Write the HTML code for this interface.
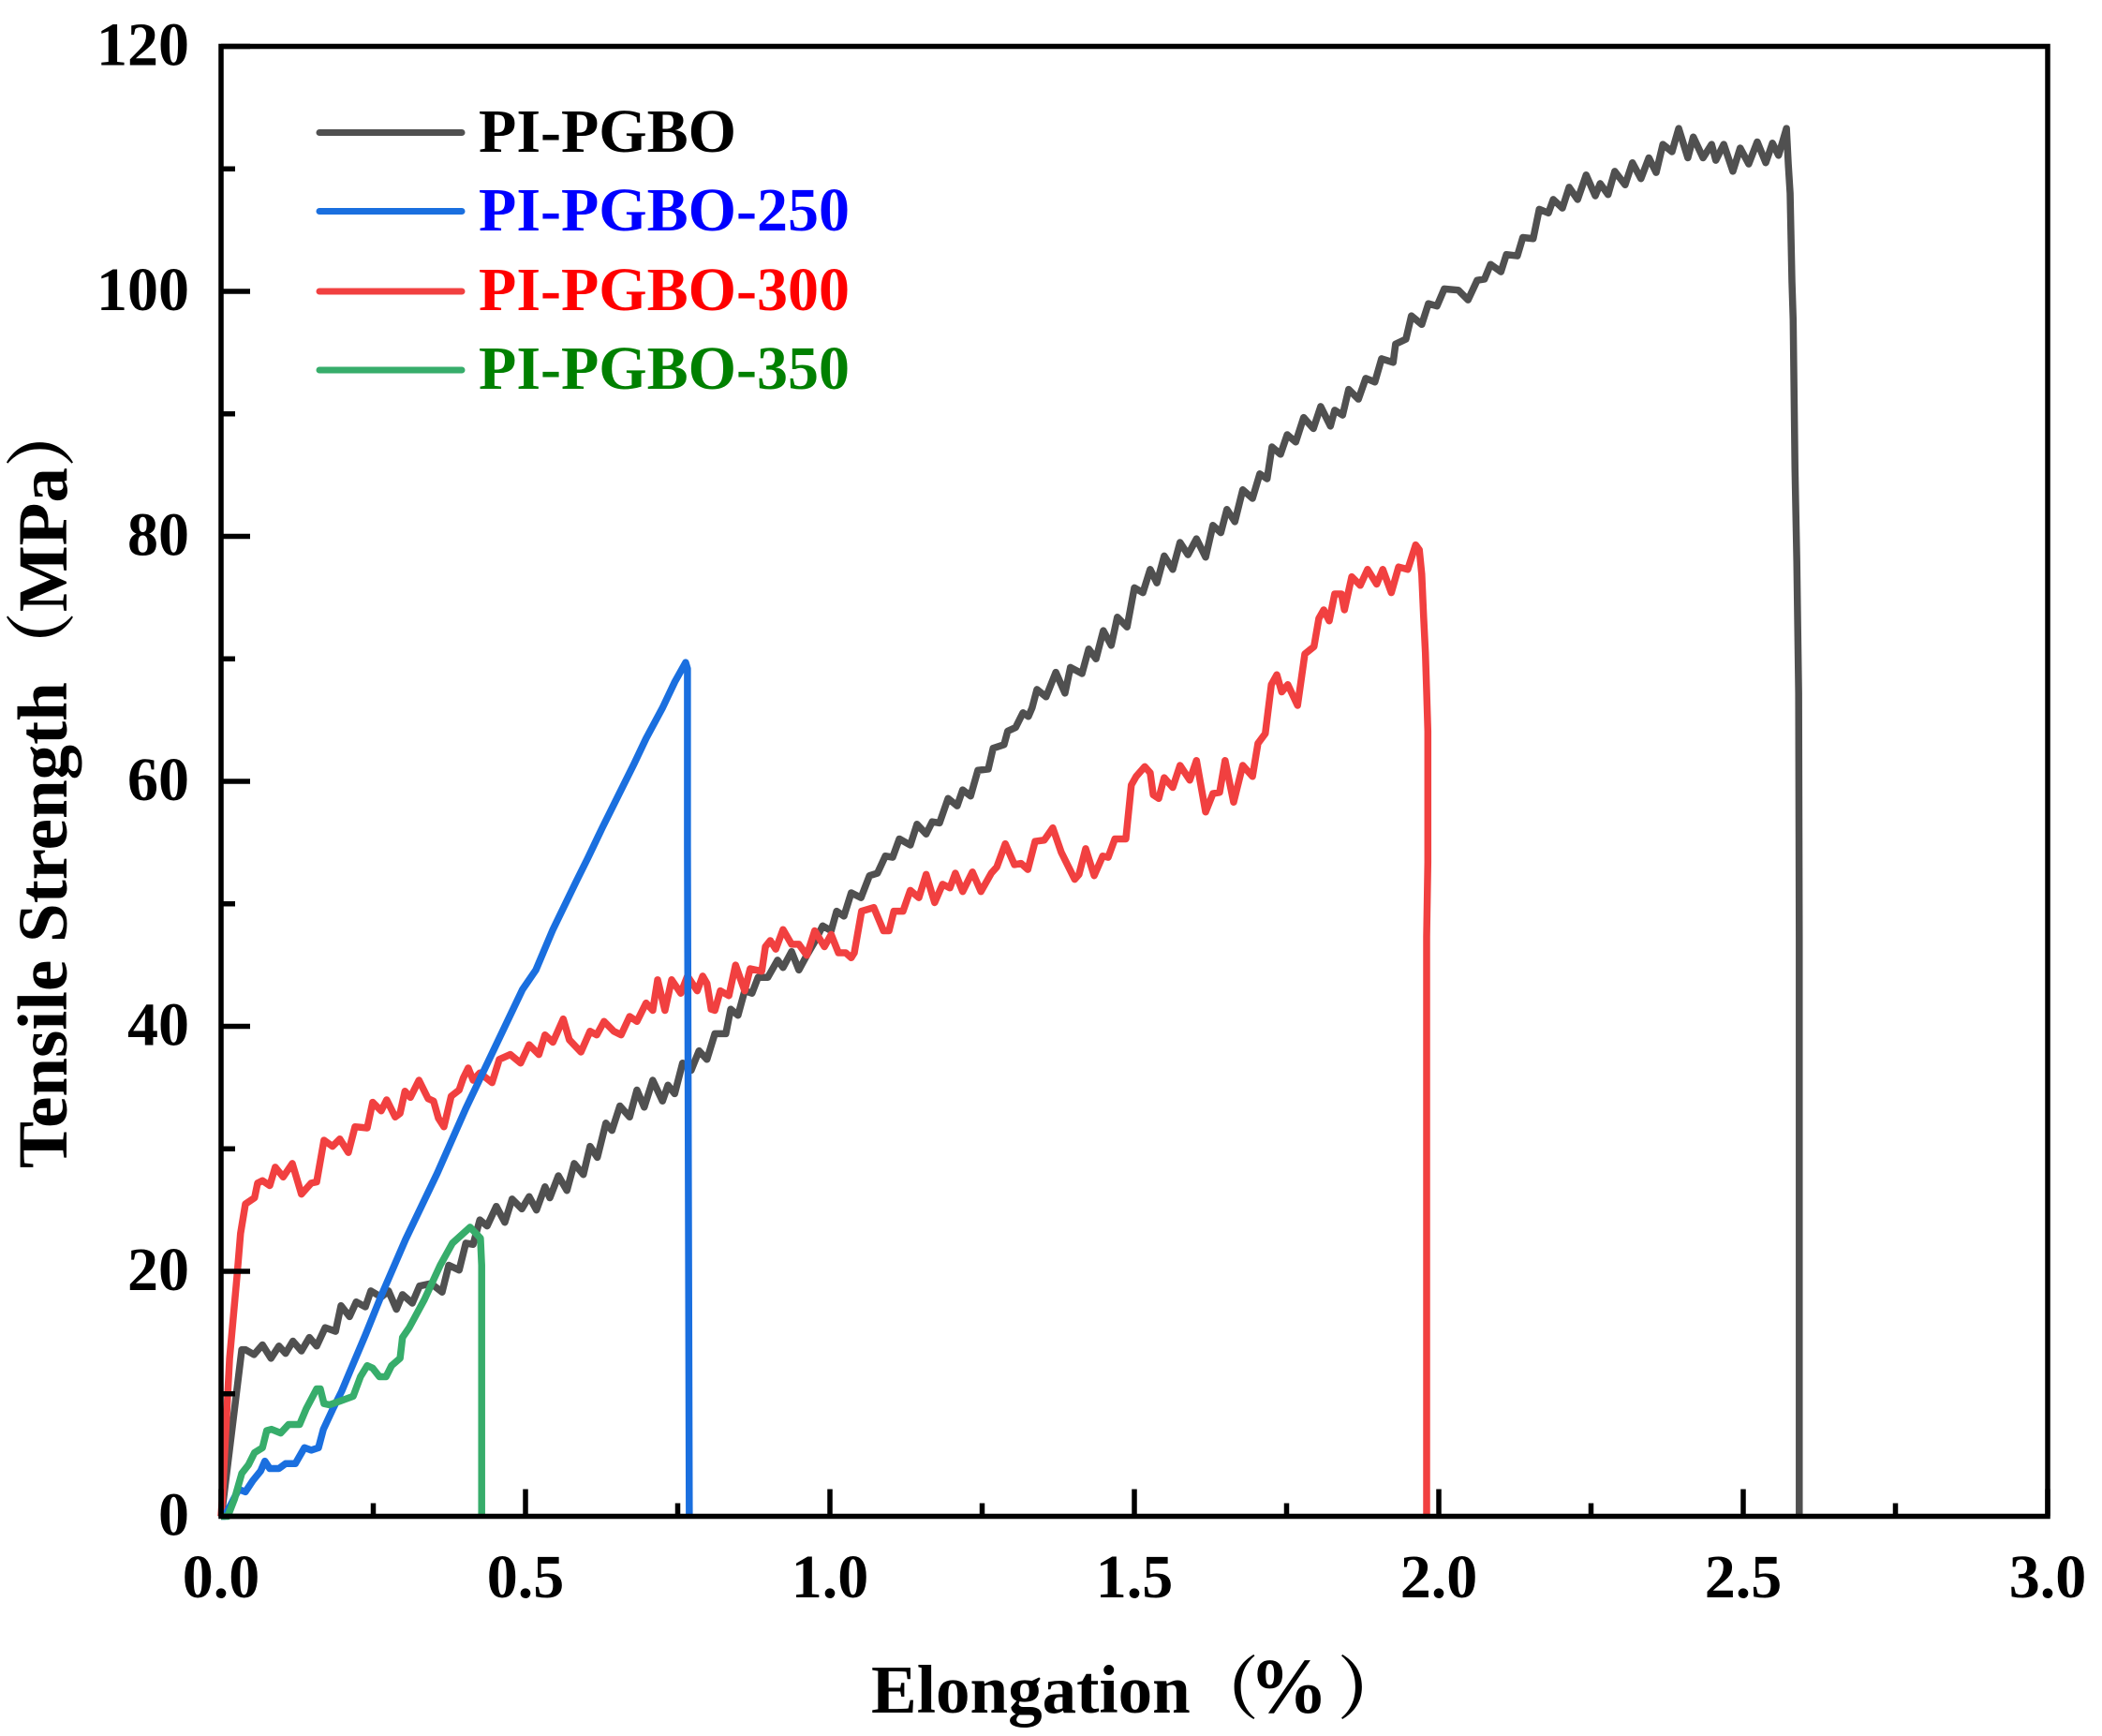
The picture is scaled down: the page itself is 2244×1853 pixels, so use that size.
<!DOCTYPE html>
<html lang="en">
<head>
<meta charset="utf-8">
<title>Tensile Strength vs Elongation</title>
<style>
html,body{margin:0;padding:0;background:#fff;}
svg{display:block;}
text{font-family:"Liberation Serif","Noto Serif CJK SC",serif;font-weight:bold;}
</style>
</head>
<body>
<svg id="chart" xmlns="http://www.w3.org/2000/svg" width="2244" height="1853" viewBox="0 0 2244 1853">
<rect x="0" y="0" width="2244" height="1853" fill="#fff"/>
<g id="series"></g>
<rect x="236" y="49.5" width="1950" height="1569" fill="none" stroke="#000" stroke-width="5.5"/>
<g id="ticks"></g>
<text x="930" y="1828" font-size="73" fill="#000">Elongation（<tspan font-size="84" dx="-10">%</tspan><tspan dx="10">）</tspan></text>
<text transform="translate(71,1247) rotate(-90)" font-size="75" fill="#000">Tensile Strength（MPa）</text>
<g>
<line x1="341" y1="141.5" x2="493" y2="141.5" stroke="#505050" stroke-width="7" stroke-linecap="round"/>
<text x="511" y="162" font-size="66" fill="#000">PI-PGBO</text>
<line x1="341" y1="225.5" x2="493" y2="225.5" stroke="#1a6fdf" stroke-width="7" stroke-linecap="round"/>
<text x="511" y="246" font-size="66" fill="#0000ff">PI-PGBO-250</text>
<line x1="341" y1="311" x2="493" y2="311" stroke="#f14040" stroke-width="7" stroke-linecap="round"/>
<text x="511" y="331" font-size="66" fill="#ff0000">PI-PGBO-300</text>
<line x1="341" y1="395" x2="493" y2="395" stroke="#37ad6b" stroke-width="7" stroke-linecap="round"/>
<text x="511" y="415" font-size="66" fill="#008000">PI-PGBO-350</text>
</g>
</svg>
<script>
const xMajorTicks = [0, 0.5, 1, 1.5, 2, 2.5, 3];
const xMajorLabels = ["0.0", "0.5", "1.0", "1.5", "2.0", "2.5", "3.0"];
const xMinorTicks = [0.25, 0.75, 1.25, 1.75, 2.25, 2.75];
const yMajorTicks = [0, 20, 40, 60, 80, 100, 120];
const yMajorLabels = ["0", "20", "40", "60", "80", "100", "120"];
const yMinorTicks = [10, 30, 50, 70, 90, 110];

const pgboX = [0,.003,.034,.040,.054,.068,.082,.095,.106,.118,.132,.145,.157,.171,.188,.197,.211,.222,.237,.246,.263,.275,.288,.298,.314,.326,.345,.363,.374,.391,.402,.414,.425,.437,.452,.466,.478,.494,.506,.518,.532,.540,.554,.568,.580,.595,.606,.618,.632,.642,.655,.671,.683,.695,.709,.725,.734,.745,.758,.772,.785,.798,.811,.829,.837,.849,.860,.872,.882,.898,.914,.923,.937,.949,.962,.975,.988,1.002,1.011,1.023,1.035,1.051,1.065,1.078,1.091,1.103,1.114,1.132,1.143,1.158,1.168,1.180,1.194,1.209,1.218,1.231,1.243,1.260,1.268,1.286,1.292,1.305,1.317,1.326,1.332,1.340,1.355,1.371,1.386,1.395,1.414,1.425,1.437,1.449,1.462,1.472,1.488,1.500,1.514,1.526,1.537,1.549,1.563,1.575,1.588,1.602,1.617,1.629,1.642,1.652,1.665,1.678,1.694,1.706,1.718,1.726,1.740,1.751,1.765,1.778,1.794,1.806,1.822,1.829,1.842,1.852,1.868,1.880,1.895,1.906,1.925,1.929,1.946,1.955,1.972,1.983,1.997,2.009,2.032,2.048,2.063,2.075,2.085,2.102,2.111,2.129,2.138,2.155,2.165,2.180,2.188,2.203,2.214,2.228,2.242,2.257,2.265,2.278,2.289,2.306,2.318,2.332,2.345,2.357,2.368,2.383,2.394,2.409,2.418,2.434,2.448,2.455,2.468,2.483,2.495,2.509,2.523,2.537,2.548,2.558,2.571,2.574,2.577,2.580,2.582,2.585,2.588,2.591,2.592,2.592];
const pgboY = [0,1.0,13.6,13.6,13.2,14.0,12.9,13.9,13.3,14.3,13.5,14.6,13.9,15.4,15.1,17.2,16.3,17.5,17.1,18.4,17.9,18.4,16.9,18.1,17.4,18.8,19.0,18.3,20.5,20.1,22.3,22.2,24.2,23.7,25.3,24.0,25.9,25.1,26.1,25.0,26.9,26.0,27.8,26.6,28.8,27.9,30.2,29.3,32.1,31.5,33.5,32.6,34.8,33.4,35.6,33.9,35.2,34.5,37.0,36.4,38.0,37.3,39.4,39.4,41.4,40.9,42.9,42.7,44.0,44.0,45.4,44.8,46.1,44.6,45.8,46.9,48.2,47.8,49.4,49.0,50.9,50.5,52.3,52.5,53.9,53.8,55.3,54.8,56.5,55.7,56.7,56.6,58.6,58.0,59.3,58.8,60.9,61.0,62.7,63.0,64.1,64.4,65.6,65.3,66.0,67.5,66.9,68.9,67.2,69.3,68.8,70.8,70.0,72.3,71.1,73.4,72.6,75.8,75.4,77.3,76.2,78.4,77.3,79.5,78.5,79.8,78.3,80.9,80.3,82.2,81.2,83.8,83.1,85.1,84.7,87.3,86.7,88.3,87.7,89.7,88.8,90.6,89.0,90.3,89.9,92.0,91.2,92.9,92.6,94.5,94.2,95.7,96.1,98.0,97.3,99.0,98.8,100.2,100.1,99.3,100.9,101.0,102.2,101.6,103.0,102.9,104.4,104.3,106.7,106.4,107.5,106.8,108.5,107.5,109.5,107.8,108.8,107.9,109.8,108.7,110.5,109.2,110.9,109.7,112.0,111.4,113.3,110.9,112.6,110.9,112.0,110.7,112.0,109.8,111.7,110.4,112.2,110.5,112.1,111.1,113.3,110.4,108.0,100.8,97.7,85.5,77.9,67.2,47.3,0];

const pgbo300X = [0,.002,.014,.026,.032,.040,.055,.060,.068,.080,.089,.102,.117,.132,.148,.157,.169,.183,.195,.209,.220,.240,.249,.263,.272,.286,.294,.302,.311,.325,.340,.349,.357,.366,.378,.391,.398,.406,.414,.425,.445,.457,.475,.492,.506,.522,.532,.545,.562,.572,.591,.606,.617,.629,.645,.657,.671,.683,.698,.709,.717,.729,.740,.755,.766,.782,.791,.798,.805,.811,.820,.834,.845,.860,.869,.888,.894,.902,.911,.923,.937,.949,.962,.975,.991,1.002,1.014,1.026,1.035,1.040,1.052,1.072,1.088,1.097,1.105,1.120,1.132,1.146,1.158,1.172,1.185,1.197,1.206,1.218,1.234,1.248,1.265,1.274,1.288,1.303,1.314,1.325,1.337,1.352,1.366,1.380,1.402,1.409,1.420,1.434,1.448,1.457,1.468,1.486,1.495,1.503,1.517,1.526,1.531,1.540,1.549,1.563,1.575,1.591,1.602,1.617,1.629,1.640,1.649,1.663,1.678,1.694,1.703,1.715,1.725,1.734,1.742,1.752,1.768,1.780,1.795,1.803,1.811,1.820,1.829,1.840,1.845,1.857,1.871,1.883,1.898,1.908,1.922,1.934,1.949,1.962,1.968,1.972,1.975,1.978,1.980,1.982,1.982,1.980,1.980];
const pgbo300Y = [0,1.4,12.9,19.5,23.1,25.5,26.0,27.2,27.4,27.0,28.5,27.7,28.8,26.3,27.2,27.3,30.7,30.2,30.8,29.7,31.8,31.7,33.8,33.1,34.0,32.6,32.9,34.7,34.2,35.6,34.1,33.9,32.5,31.8,34.3,34.8,35.8,36.6,35.6,36.2,35.4,37.3,37.7,37.0,38.5,37.7,39.3,38.7,40.6,38.9,37.9,39.6,39.3,40.4,39.6,39.3,40.8,40.4,41.9,41.3,43.8,41.3,43.8,42.7,44.1,42.9,44.1,43.5,41.4,41.3,42.9,42.5,45.0,42.9,44.7,44.5,46.5,47.0,46.3,47.9,46.7,46.7,45.8,47.8,46.5,47.5,46.0,46.0,45.6,46.0,49.4,49.7,47.8,47.8,49.4,49.4,51.1,50.5,52.4,50.1,51.6,51.3,52.5,51.0,52.6,51.0,52.5,53.0,54.9,53.2,53.3,52.8,55.1,55.2,56.2,54.2,52.0,52.4,54.5,52.3,53.9,53.8,55.3,55.3,59.7,60.4,61.2,60.7,58.9,58.6,60.3,59.5,61.3,60.1,61.7,57.5,59.0,59.1,61.7,58.3,61.3,60.4,63.1,63.9,67.9,68.7,67.3,67.9,66.2,70.4,71.0,73.3,74.0,73.1,75.3,75.3,74.0,76.7,76.0,77.3,76.1,77.3,75.4,77.5,77.3,79.3,78.9,76.9,73.5,70.5,67.4,64.1,53.4,47.3,0];

const pgbo250X = [0,.006,.029,.040,.052,.065,.072,.080,.095,.106,.122,.137,.148,.160,.168,.183,.198,.214,.237,.263,.303,.355,.402,.426,.495,.517,.545,.583,.602,.626,.652,.678,.698,.725,.745,.763,.766,.766,.769];
const pgbo250Y = [0,0,2.2,2.0,2.9,3.7,4.5,3.9,3.9,4.3,4.3,5.6,5.4,5.6,7.1,8.7,10.2,12.1,14.8,18.0,22.6,28.0,33.3,35.8,43.0,44.6,47.9,51.8,53.7,56.2,58.8,61.4,63.5,66.0,68.1,69.7,69.2,54.7,0];

const pgbo350X = [0,.011,.022,.034,.045,.055,.068,.075,.083,.098,.111,.129,.140,.157,.163,.169,.178,.195,.217,.229,.240,.249,.260,.271,.280,.294,.298,.309,.334,.360,.380,.409,.426,.428,.428];
const pgbo350Y = [0,0,1.4,3.5,4.2,5.2,5.6,7.0,7.1,6.8,7.5,7.5,8.8,10.4,10.4,9.2,9.1,9.4,9.8,11.4,12.3,12.1,11.4,11.4,12.3,12.9,14.6,15.4,17.7,20.5,22.3,23.6,22.7,20.5,0];

const NS = "http://www.w3.org/2000/svg";
const plotLeft = 236, plotRight = 2186, plotBottom = 1618.5, plotTop = 49.5;
const xMax = 3, yMax = 120;
function xScale(v) { return plotLeft + (plotRight - plotLeft) * v / xMax; }
function yScale(v) { return plotBottom - (plotBottom - plotTop) * v / yMax; }

function linePath(xs, ys) {
  return xs.map(function (x, i) {
    return (i ? "L" : "M") + xScale(x).toFixed(2) + " " + yScale(ys[i]).toFixed(2);
  }).join("");
}

const seriesGroup = document.getElementById("series");
function drawSeries(xs, ys, color) {
  const p = document.createElementNS(NS, "path");
  p.setAttribute("d", linePath(xs, ys));
  p.setAttribute("fill", "none");
  p.setAttribute("stroke", color);
  p.setAttribute("stroke-width", "7.5");
  p.setAttribute("stroke-linejoin", "round");
  p.setAttribute("stroke-linecap", "butt");
  seriesGroup.appendChild(p);
  return p;
}
const curvePgbo = drawSeries(pgboX, pgboY, "#505050");


const curve300 = drawSeries(pgbo300X, pgbo300Y, "#f14040");


const curve250 = drawSeries(pgbo250X, pgbo250Y, "#1a6fdf");


const curve350 = drawSeries(pgbo350X, pgbo350Y, "#37ad6b");



const tickGroup = document.getElementById("ticks");
function tickLine(x1, y1, x2, y2) {
  const l = document.createElementNS(NS, "line");
  l.setAttribute("x1", x1);
  l.setAttribute("y1", y1);
  l.setAttribute("x2", x2);
  l.setAttribute("y2", y2);
  l.setAttribute("stroke", "#000");
  l.setAttribute("stroke-width", "5.5");
  tickGroup.appendChild(l);
  return l;
}
function tickText(x, y, anchor, str) {
  const t = document.createElementNS(NS, "text");
  t.setAttribute("x", x);
  t.setAttribute("y", y);
  t.setAttribute("text-anchor", anchor);
  t.setAttribute("font-size", "66");
  t.setAttribute("fill", "#000");
  t.textContent = str;
  tickGroup.appendChild(t);
  return t;
}
xMajorTicks.forEach(function (v, i) {
  const m = tickLine(xScale(v), plotBottom, xScale(v), plotBottom - 29);
  
  
  const t = tickText(xScale(v), 1705, "middle", xMajorLabels[i]);
  
  
});
xMinorTicks.forEach(function (v) {
  const m = tickLine(xScale(v), plotBottom, xScale(v), plotBottom - 14);
  
  
});
yMajorTicks.forEach(function (v, i) {
  const m = tickLine(plotLeft, yScale(v), plotLeft + 31, yScale(v));
  
  
  const t = tickText(202, yScale(v) + 20, "end", yMajorLabels[i]);
  
  
});
yMinorTicks.forEach(function (v) {
  const m = tickLine(plotLeft, yScale(v), plotLeft + 15, yScale(v));
  
  
});
</script>
</body>
</html>
